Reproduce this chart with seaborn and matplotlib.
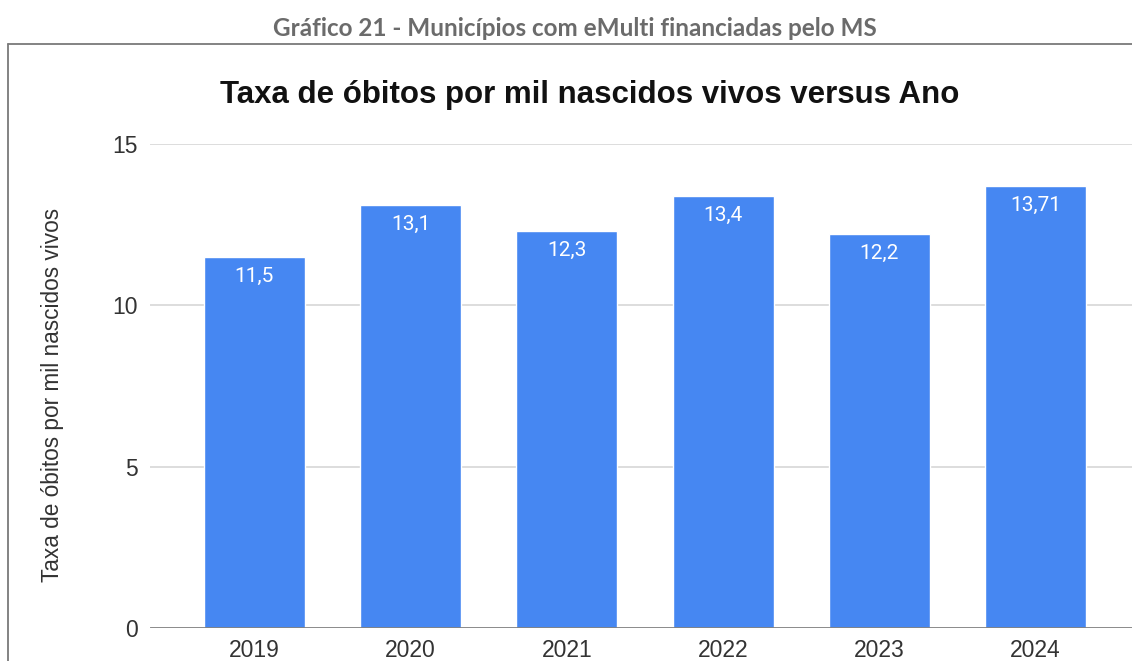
import matplotlib
matplotlib.use("Agg")
import matplotlib.pyplot as plt
from matplotlib.lines import Line2D
import seaborn as sns
import pandas as pd

anos = ["2019", "2020", "2021", "2022", "2023", "2024"]
taxas = [11.5, 13.1, 12.3, 13.4, 12.2, 13.71]
rotulos = ["11,5", "13,1", "12,3", "13,4", "12,2", "13,71"]
yticks = [0, 5, 10, 15]

sns.set_theme(style="white")
plt.rcParams['font.family'] = ['Liberation Sans', 'DejaVu Sans']

W, H = 1132, 661
fig = plt.figure(figsize=(W / 100, H / 100), dpi=100)
fig.patch.set_facecolor("white")

ax_left, ax_right, ax_bottom, ax_top = 150, W, 628, 144
ax = fig.add_axes([ax_left / W, 1 - ax_bottom / H, (ax_right - ax_left) / W, (ax_bottom - ax_top) / H])

df = pd.DataFrame({"Ano": anos, "Taxa": taxas})
sns.barplot(data=df, x="Ano", y="Taxa", color="#4687f2", saturation=1, width=0.647, ax=ax, zorder=3)

ax.set_ylim(0, 15)
ax.set_xlim(-0.669, 5.618)
ax.set_yticks(yticks)
ax.set_yticklabels([str(v) for v in yticks])
for v in yticks[1:]:
    ax.axhline(v, color="#dadada", lw=1.3, zorder=1)
ax.axhline(0, color="#808080", lw=2, zorder=4)
for s in ax.spines.values():
    s.set_visible(False)
ax.tick_params(axis="both", length=0, labelsize=16.5, colors="#333333")
ax.tick_params(axis="x", pad=8)
ax.tick_params(axis="y", pad=8.5)
ax.set_xlabel("")
ax.set_ylabel("")

for i, (v, lab) in enumerate(zip(taxas, rotulos)):
    ax.annotate(lab, xy=(i, v), xytext=(0, -14), textcoords="offset points",
                ha="center", va="center", color="white", fontsize=15,
                family=["Roboto", "DejaVu Sans"], zorder=5)

fig.text(53 / W, 1 - 395 / H, "Taxa de óbitos por mil nascidos vivos", rotation=90,
         ha="center", va="center", fontsize=16.3, color="#333333")
fig.text(590 / W, 1 - 95 / H, "Taxa de óbitos por mil nascidos vivos versus Ano",
         ha="center", va="center", fontsize=22.5, fontweight="bold", color="#111111")
fig.text(575 / W, 1 - 29 / H, "Gráfico 21 - Municípios com eMulti financiadas pelo MS",
         ha="center", va="center", fontsize=17.5, fontweight="bold", color="#6b6b6b",
         family=["Lato", "DejaVu Sans"])

fig.add_artist(Line2D([8 / W, 1], [1 - 44 / H, 1 - 44 / H], color="#7a7a7a", lw=1.3))
fig.add_artist(Line2D([8 / W, 8 / W], [0, 1 - 44 / H], color="#7a7a7a", lw=1.3))

fig.savefig("out.png", dpi=100)
